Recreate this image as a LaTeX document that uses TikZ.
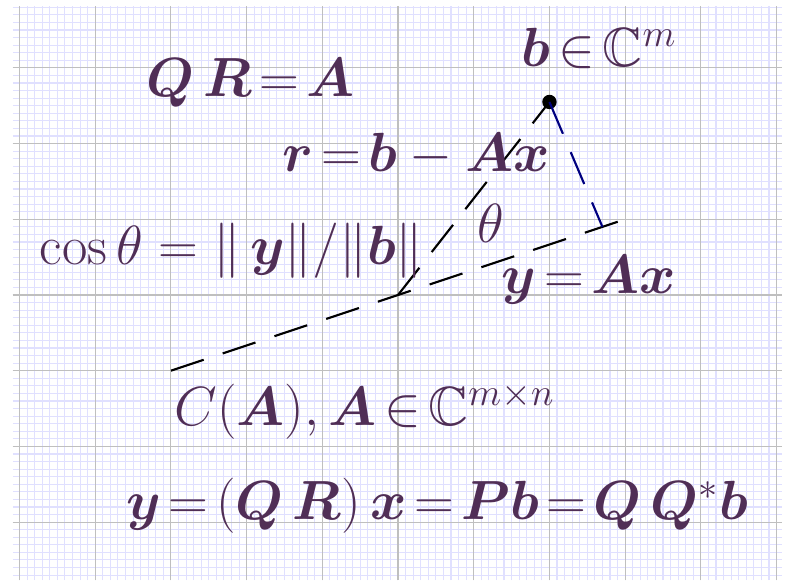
\documentclass[tikz,border=0pt]{standalone}
\usepackage{amsmath,amssymb,bm}
\usepackage{tikz}
\usetikzlibrary{positioning}
\usepackage{xcolor}
\definecolor{labelplum}{RGB}{80,46,86}
\thickmuskip=2.5mu plus 2mu

\begin{document}
\begin{tikzpicture}[font=\huge,
    lbl/.style={text=labelplum, anchor=base, inner sep=0pt},
    longdash/.style={thick, line cap=butt, dash pattern=on 13pt off 7.5pt},
    bdot/.style={circle, fill=black, inner sep=0pt, minimum size=5.4pt}]
    \useasboundingbox (-5.258,-3.765) rectangle (5.112,3.897);

    % Grid paper
    \draw[blue!12, thin, step=0.1] (-5.09,-3.77) grid (5.07,3.82);
    \draw[gray!50, thin, step=1] (-5.09,-3.77) grid (5.07,3.82);

    % Points
    \coordinate (o) at (0,0);
    \coordinate (cl) at (-3,-1);
    \coordinate (cr) at (3,1);
    \coordinate (foot) at (2.7,0.9);
    \node[bdot] (b) at (2,2.55) {};

    % Column space and residual
    \draw[longdash] (cl) -- (cr);
    \draw[longdash] (o) -- (b.center);
    \draw[longdash, blue!50!black] (b.center) -- (foot);

    % Labels
    \node[lbl] (qr) at (-1.95,2.62) {$\bm{Q}\,\bm{R}=\bm{A}$};
    \node[lbl] (blab) at (2.66,3.02) {$\bm{b}\in\mathbb{C}^m$};
    \node[lbl] (rlab) at (0.24,1.63) {$\bm{r}=\bm{b}-\bm{A}\bm{x}$};
    \node[lbl] (theta) at (1.22,0.70) {$\theta$};
    \node[lbl] (cosl) at (-2.2,0.40)
        {$\thickmuskip=5mu \cos\theta=\|\,\bm{y}\|/\|\bm{b}\|$};
    \node[lbl] (ylab) at (2.52,0.026) {$\bm{y}=\bm{A}\bm{x}$};
    \node[lbl] (colsp) at (-0.44,-1.72) {$C(\bm{A}),\bm{A}\in\mathbb{C}^{m\times n}$};
    \node[lbl] (proj) at (0.52,-2.97)
        {$\bm{y}=(\bm{Q}\,\bm{R})\,\bm{x}=\bm{P}\bm{b}=\bm{Q}\,\bm{Q}^*\bm{b}$};
\end{tikzpicture}
\end{document}
